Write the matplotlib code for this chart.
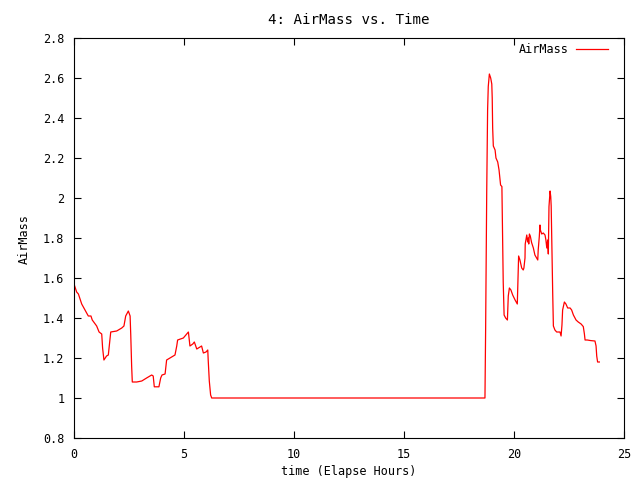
import matplotlib
matplotlib.use("Agg")
import matplotlib.pyplot as plt

time_h = [0.0, 0.12, 0.2, 0.35, 0.5, 0.65, 0.77, 0.83, 1.03, 1.14, 1.26, 1.3, 1.36, 1.48, 1.56,
          1.64, 1.67, 1.94, 2.17, 2.27, 2.35, 2.47, 2.55, 2.58, 2.62, 2.65, 2.85, 3.08, 3.3,
          3.53, 3.6, 3.65, 3.86, 3.94, 4.0, 4.14, 4.21, 4.36, 4.59, 4.67, 4.71, 4.97, 5.12,
          5.2, 5.27, 5.4, 5.47, 5.58, 5.8, 5.88, 6.0, 6.08, 6.1, 6.15, 6.21, 6.26,
          10.0, 15.0, 18.68,
          18.71, 18.76, 18.8, 18.83, 18.88, 18.94, 18.99, 19.01, 19.03, 19.06, 19.14, 19.18,
          19.26, 19.32, 19.36, 19.39, 19.45, 19.47, 19.51, 19.55, 19.62, 19.7, 19.74, 19.79,
          19.86, 19.94, 20.05, 20.15, 20.18, 20.21, 20.27, 20.35, 20.42, 20.45, 20.5, 20.51,
          20.58, 20.62, 20.65, 20.67, 20.7, 20.74, 20.8, 20.88, 20.95, 21.03, 21.08, 21.1,
          21.15, 21.18, 21.2, 21.26, 21.33, 21.41, 21.45, 21.49, 21.53, 21.56, 21.59, 21.64,
          21.67, 21.69, 21.71, 21.76, 21.79, 21.86, 21.94, 22.0, 22.09, 22.14, 22.18, 22.21,
          22.29, 22.36, 22.44, 22.55, 22.62, 22.7, 22.82, 22.92, 23.05, 23.15, 23.2, 23.23,
          23.33, 23.49, 23.68, 23.73, 23.76, 23.8, 23.88]
airmass = [1.57, 1.53, 1.52, 1.47, 1.44, 1.41, 1.41, 1.39, 1.36, 1.33, 1.32, 1.25, 1.19, 1.21, 1.215,
           1.30, 1.33, 1.335, 1.35, 1.36, 1.41, 1.435, 1.41, 1.315, 1.16, 1.08, 1.08, 1.085, 1.10,
           1.115, 1.11, 1.056, 1.056, 1.10, 1.115, 1.12, 1.19, 1.20, 1.215, 1.26, 1.29, 1.30, 1.32,
           1.33, 1.26, 1.27, 1.28, 1.245, 1.26, 1.225, 1.23, 1.24, 1.19, 1.085, 1.015, 1.0,
           1.0, 1.0, 1.0,
           1.34, 2.03, 2.44, 2.557, 2.62, 2.60, 2.57, 2.50, 2.35, 2.26, 2.24, 2.20,
           2.18, 2.14, 2.10, 2.065, 2.057, 1.90, 1.58, 1.415, 1.40, 1.39, 1.51, 1.55,
           1.54, 1.515, 1.49, 1.47, 1.59, 1.71, 1.69, 1.65, 1.64, 1.65, 1.70, 1.77,
           1.815, 1.78, 1.80, 1.77, 1.82, 1.81, 1.777, 1.75, 1.715, 1.70, 1.69, 1.74,
           1.807, 1.865, 1.84, 1.82, 1.825, 1.815, 1.79, 1.75, 1.79, 1.72, 1.957, 2.035,
           2.007, 1.96, 1.83, 1.52, 1.36, 1.34, 1.33, 1.33, 1.33, 1.31, 1.365, 1.44,
           1.48, 1.47, 1.45, 1.45, 1.44, 1.415, 1.39, 1.38, 1.37, 1.357, 1.32, 1.29,
           1.29, 1.287, 1.285, 1.26, 1.21, 1.18, 1.18]

x_ticks = [0, 5, 10, 15, 20, 25]
y_ticks = [0.8, 1.0, 1.2, 1.4, 1.6, 1.8, 2.0, 2.2, 2.4, 2.6, 2.8]
y_tick_labels = ["0.8", "1", "1.2", "1.4", "1.6", "1.8", "2", "2.2", "2.4", "2.6", "2.8"]

plt.rcParams['font.family'] = ['DejaVu Sans Mono']
plt.rcParams['font.size'] = 8.5

fig = plt.figure(figsize=(6.4, 4.8), dpi=100)
ax = fig.add_axes([74/640, 1-438/480, 550/640, 400/480])
ax.plot(time_h, airmass, color='#ff0000', linewidth=0.9, label='AirMass')
ax.set_xlim(0, 25)
ax.set_ylim(0.8, 2.8)
ax.set_xticks(x_ticks)
ax.set_yticks(y_ticks)
ax.set_yticklabels(y_tick_labels)
ax.tick_params(direction='in', top=True, right=True, length=5, width=0.8)
ax.tick_params(axis='y', pad=7)
ax.tick_params(axis='x', pad=7)
for s in ax.spines.values():
    s.set_linewidth(0.8)
fig.text(349/640, 1-472/480, 'time (Elapse Hours)', ha='center', va='center')
fig.text(24/640, 1-239/480, 'AirMass', ha='center', va='center', rotation=90)
ax.set_title('4: AirMass vs. Time', pad=10)
leg = ax.legend(loc='upper right', frameon=False, markerfirst=False, handlelength=2.7,
                handletextpad=0.68, borderaxespad=0.0, bbox_to_anchor=(0.98, 1.0))
fig.savefig('out.png', dpi=100)
